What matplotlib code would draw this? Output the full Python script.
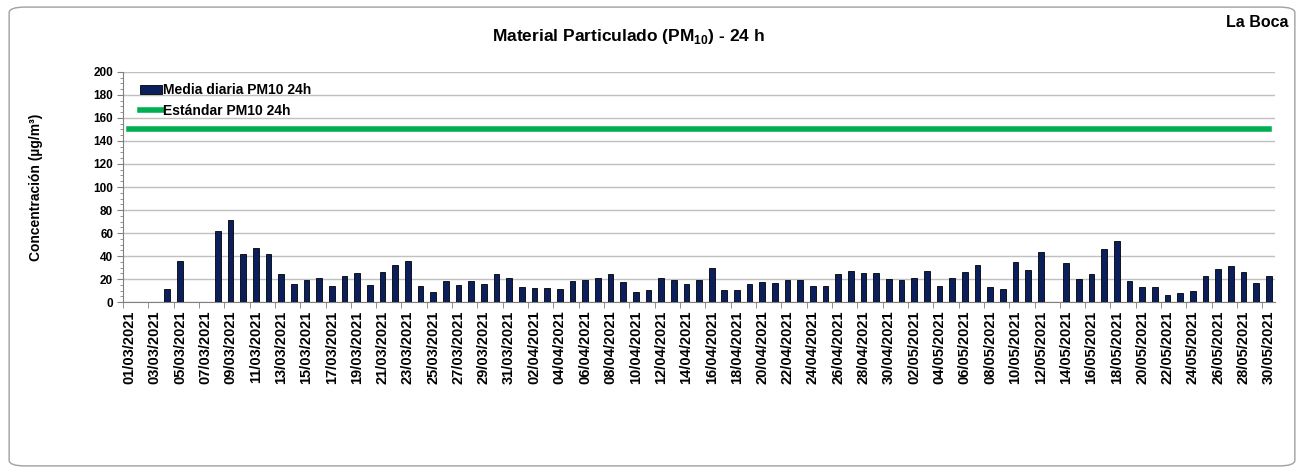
import numpy as np
import pandas as pd
import matplotlib
matplotlib.use("Agg")
import matplotlib.pyplot as plt
from matplotlib.patches import FancyBboxPatch

plt.rcParams["font.family"] = ["Liberation Sans", "DejaVu Sans"]
plt.rcParams["font.weight"] = "bold"
plt.rcParams["axes.labelweight"] = "bold"
plt.rcParams["mathtext.fontset"] = "custom"
plt.rcParams["mathtext.bf"] = "Liberation Sans:bold"
plt.rcParams["mathtext.rm"] = "Liberation Sans:bold"

# daily PM10 means, 01/03/2021 .. 30/05/2021 (nan = no data)
march = [np.nan, np.nan, np.nan, 11, 36, np.nan, np.nan, 62, 71, 42,
         47, 42, 24, 16, 19, 21, 14, 23, 25, 15,
         26, 32, 36, 14, 9, 18, 15, 18, 16, 24, 21]
april = [13, 12.5, 12, 11, 18, 19, 21, 24, 17.5, 9,
         10.5, 20.5, 19.5, 16, 19.5, 29.5, 10.5, 10.5, 15.5, 17.5,
         16.5, 19, 19, 13.7, 13.7, 24.7, 26.7, 25, 25, 20]
may = [19.5, 20.5, 26.7, 13.7, 20.5, 26, 32.6, 13, 11, 35,
       28, 43.3, np.nan, 33.7, 20, 24, 46, 53.2, 18, 12.8,
       12.8, 6.1, 7.8, 9.6, 22.4, 28.5, 31.7, 25.9, 16.3, 22.4]
pm10 = march + april + may
standard = 150

dates = pd.date_range("2021-03-01", "2021-05-30", freq="D")
labels = [d.strftime("%d/%m/%Y") for d in dates]
x = np.arange(len(dates))

fig = plt.figure(figsize=(13.04, 4.73), dpi=100)
fig.patches.append(FancyBboxPatch((0.007, 0.015), 0.986, 0.97,
                                  boxstyle="round,pad=0,rounding_size=0.012",
                                  transform=fig.transFigure, fc="white",
                                  ec="#a0a0a0", lw=1.0, zorder=-1))

ax = fig.add_axes([0.0943, 0.3615, 0.8835, 0.4863])

bars = ax.bar(x, pm10, width=0.45, color="#0b1f5c", edgecolor="black", lw=0.6,
              label="Media diaria PM10 24h", zorder=3)
line, = ax.plot(x, [standard] * len(x), color="#00b050", lw=4,
                label="Estándar PM10 24h", zorder=4)

ax.set_xlim(-0.5, len(x) - 0.5)
ax.set_ylim(0, 200)
ax.set_yticks(range(0, 201, 20))
ax.set_yticks(range(0, 201, 5), minor=True)
ax.grid(axis="y", color="#c0c0c0", lw=1, zorder=0)
ax.tick_params(axis="y", which="major", labelsize=8.5, length=4, color="#808080", pad=3)
ax.tick_params(axis="y", which="minor", length=2, color="#808080")

ax.set_xticks(x[::2])
ax.set_xticklabels(labels[::2], rotation=90, fontsize=10.5)
ax.set_xticks(np.arange(-0.5, len(x), 2), minor=True)
ax.tick_params(axis="x", which="major", length=0, pad=6)
ax.tick_params(axis="x", which="minor", length=4, color="#808080")

for s in ["top", "right"]:
    ax.spines[s].set_visible(False)
for s in ["left", "bottom"]:
    ax.spines[s].set_color("#808080")

ax.set_ylabel("Concentración (µg/m³)", fontsize=10, labelpad=36)

ax.legend([bars, line], ["Media diaria PM10 24h", "Estándar PM10 24h"],
          loc="upper left", bbox_to_anchor=(0.01, 0.975), frameon=False,
          fontsize=10, handlelength=1.6, handletextpad=0.05, labelspacing=0.45,
          borderaxespad=0)

fig.text(0.482, 0.922, r"Material Particulado (PM$_{\mathbf{10}}$) - 24 h",
         ha="center", va="center", fontsize=12.5, fontweight="bold")
fig.text(0.988, 0.952, "La Boca", ha="right", va="center",
         fontsize=11.5, fontweight="bold")

fig.savefig("out.png", dpi=100)
